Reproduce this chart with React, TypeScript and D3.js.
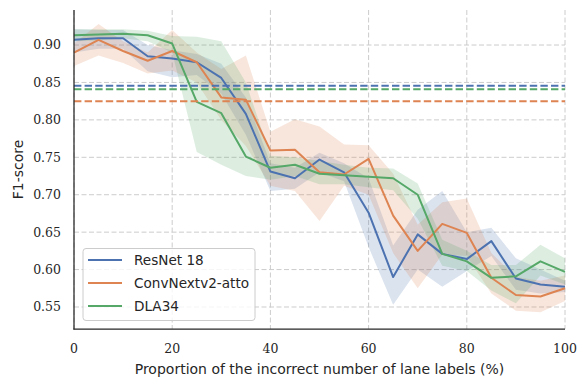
import React from 'react';
import * as d3 from 'd3';

const props = [0, 5, 10, 15, 20, 25, 30, 35, 40, 45, 50, 55, 60, 65, 70, 75, 80, 85, 90, 95, 100];

const resnetMean = [0.907, 0.909, 0.909, 0.885, 0.882, 0.877, 0.856, 0.808, 0.731, 0.722, 0.747, 0.730, 0.676, 0.590, 0.647, 0.621, 0.614, 0.638, 0.588, 0.580, 0.577];
const resnetHi = [0.921, 0.920, 0.920, 0.900, 0.893, 0.888, 0.875, 0.830, 0.742, 0.736, 0.756, 0.742, 0.722, 0.632, 0.680, 0.705, 0.650, 0.656, 0.615, 0.600, 0.585];
const resnetLo = [0.890, 0.895, 0.895, 0.865, 0.857, 0.860, 0.835, 0.780, 0.705, 0.708, 0.730, 0.718, 0.630, 0.553, 0.600, 0.577, 0.598, 0.618, 0.573, 0.568, 0.570];

const convMean = [0.890, 0.907, 0.892, 0.879, 0.892, 0.877, 0.830, 0.827, 0.759, 0.760, 0.730, 0.727, 0.748, 0.672, 0.625, 0.661, 0.649, 0.589, 0.566, 0.564, 0.575];
const convHi = [0.902, 0.928, 0.905, 0.890, 0.920, 0.890, 0.868, 0.886, 0.784, 0.801, 0.791, 0.767, 0.766, 0.728, 0.660, 0.690, 0.695, 0.622, 0.590, 0.585, 0.592];
const convLo = [0.872, 0.886, 0.876, 0.862, 0.866, 0.850, 0.800, 0.765, 0.712, 0.705, 0.665, 0.712, 0.700, 0.622, 0.575, 0.620, 0.618, 0.568, 0.545, 0.543, 0.558];

const dlaMean = [0.913, 0.914, 0.915, 0.913, 0.902, 0.824, 0.809, 0.751, 0.736, 0.740, 0.728, 0.726, 0.724, 0.722, 0.700, 0.621, 0.611, 0.589, 0.591, 0.611, 0.597];
const dlaHi = [0.921, 0.921, 0.921, 0.919, 0.912, 0.911, 0.905, 0.850, 0.752, 0.750, 0.745, 0.740, 0.736, 0.735, 0.715, 0.640, 0.625, 0.606, 0.606, 0.633, 0.615];
const dlaLo = [0.905, 0.906, 0.909, 0.905, 0.890, 0.757, 0.740, 0.725, 0.720, 0.725, 0.714, 0.714, 0.710, 0.706, 0.668, 0.605, 0.598, 0.572, 0.555, 0.592, 0.580];

// clean-data baselines, same order as names
const baselines = [0.8455, 0.8250, 0.8410];
const names = ['ResNet 18', 'ConvNextv2-atto', 'DLA34'];
const colors = ['#4C72B0', '#DD8452', '#55A868'];

const yTicks = [0.55, 0.6, 0.65, 0.7, 0.75, 0.8, 0.85, 0.9];
const xTicks = [0, 20, 40, 60, 80, 100];

const W = 578, H = 379;
const left = 74, right = 565, top = 10, bottom = 329;

export default function App() {
  const x = d3.scaleLinear().domain([0, 100]).range([left, right]);
  const y = d3.scaleLinear().domain([0.5206, 0.9468]).range([bottom, top]);

  const series = [
    { mean: resnetMean, hi: resnetHi, lo: resnetLo },
    { mean: convMean, hi: convHi, lo: convLo },
    { mean: dlaMean, hi: dlaHi, lo: dlaLo },
  ];

  const line = d3.line<number>().x((_, i) => x(props[i])).y(d => y(d));
  const band = (hi: number[], lo: number[]) =>
    d3.area<number>()
      .x((_, i) => x(props[i]))
      .y0((_, i) => y(lo[i]))
      .y1((_, i) => y(hi[i]))(props) as string;

  const serif = "'DejaVu Serif', serif";
  const sans = "'DejaVu Sans', sans-serif";

  return (
    <svg width={W} height={H} style={{ position: 'absolute', left: 0, top: 0 }}>
      <rect width={W} height={H} fill="#fff" />

      {/* grid */}
      {xTicks.map(t => (
        <line key={'gx' + t} x1={x(t)} x2={x(t)} y1={top} y2={bottom}
          stroke="#cccccc" strokeWidth={1} strokeDasharray="5,2.5" />
      ))}
      {yTicks.map(t => (
        <line key={'gy' + t} x1={left} x2={right} y1={y(t)} y2={y(t)}
          stroke="#cccccc" strokeWidth={1} strokeDasharray="5,2.5" />
      ))}

      {/* confidence bands */}
      {series.map((s, k) => (
        <path key={'b' + k} d={band(s.hi, s.lo)} fill={colors[k]} fillOpacity={0.2} stroke="none" />
      ))}

      {/* mean lines */}
      {series.map((s, k) => (
        <path key={'l' + k} d={line(s.mean) as string} fill="none" stroke={colors[k]}
          strokeWidth={2} strokeLinejoin="round" />
      ))}

      {/* baselines */}
      {baselines.map((b, k) => (
        <line key={'h' + k} x1={left} x2={right} y1={y(b)} y2={y(b)}
          stroke={colors[k]} strokeWidth={2} strokeDasharray="7.4,3.2" />
      ))}

      {/* spines */}
      <line x1={left} x2={left} y1={top} y2={bottom + 0.6} stroke="#262626" strokeWidth={1.25} />
      <line x1={left - 0.6} x2={right} y1={bottom} y2={bottom} stroke="#262626" strokeWidth={1.25} />

      {/* tick labels */}
      {yTicks.map(t => (
        <text key={'ty' + t} x={left - 13} y={y(t)} dy="0.35em" textAnchor="end"
          fontFamily={serif} fontSize={12.5} fill="#262626">{t.toFixed(2)}</text>
      ))}
      {xTicks.map(t => (
        <text key={'tx' + t} x={x(t)} y={bottom + 24} textAnchor="middle"
          fontFamily={serif} fontSize={12.5} fill="#262626">{t}</text>
      ))}

      {/* axis labels */}
      <text x={(left + right) / 2} y={H - 5} textAnchor="middle" fontFamily={sans}
        fontSize={14} fill="#262626">Proportion of the incorrect number of lane labels (%)</text>
      <text transform={`translate(23,${(top + bottom) / 2}) rotate(-90)`} textAnchor="middle"
        fontFamily={sans} fontSize={14} fill="#262626">F1-score</text>

      {/* legend */}
      <rect x={83} y={248.5} width={172} height={72} rx={3} fill="#fff" fillOpacity={0.8}
        stroke="#cccccc" strokeWidth={1} />
      {names.map((n, k) => (
        <g key={'lg' + k} transform={`translate(0,${260 + k * 23})`}>
          <line x1={88} x2={122} y1={0} y2={0} stroke={colors[k]} strokeWidth={2} />
          <text x={134} y={0} dy="0.35em" fontFamily={sans} fontSize={13.6} fill="#262626">{n}</text>
        </g>
      ))}
    </svg>
  );
}
